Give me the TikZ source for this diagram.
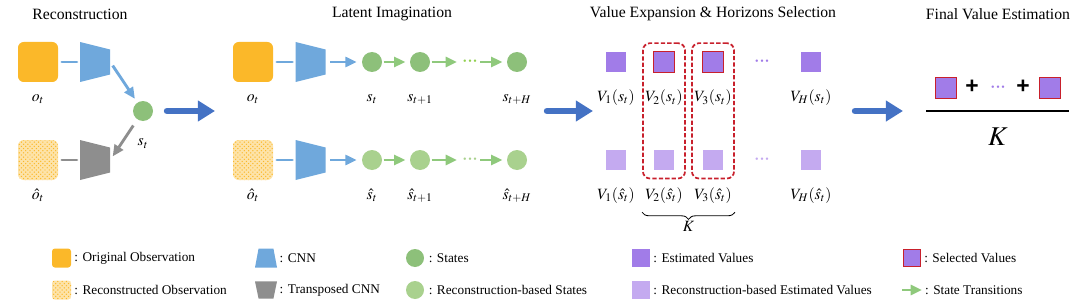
\documentclass[tikz,border=0pt]{standalone}
\usepackage{xcolor}
\usepackage{mathptmx}
\usepackage[no-math]{fontspec}
\setmainfont{Liberation Serif}
\newfontfamily\plusfont{Liberation Sans}
\usetikzlibrary{positioning,arrows.meta,patterns,fit,decorations.pathreplacing}

\definecolor{obsorange}{HTML}{FBB829}
\definecolor{cnnblue}{HTML}{6FA8DC}
\definecolor{tcnngray}{HTML}{8E8E8E}
\definecolor{stategreen}{HTML}{8DC07A}
\definecolor{recgreen}{HTML}{A9D18E}
\definecolor{transgreen}{HTML}{8FC97C}
\definecolor{dotgreen}{HTML}{92D050}
\definecolor{valpurple}{HTML}{A17CE8}
\definecolor{recpurple}{HTML}{C4AAF0}
\definecolor{selred}{HTML}{C8202C}
\definecolor{bigblue}{HTML}{4472C4}

\newcommand{\threedots}{\fontsize{7}{7}\selectfont\textbullet\hspace{1.2pt}\textbullet\hspace{1.2pt}\textbullet}

\begin{document}
\begin{tikzpicture}[
    x=0.7pt, y=-0.7pt,
    title/.style={font=\fontsize{11}{13}\selectfont},
    lbl/.style={font=\fontsize{11}{13}\selectfont, inner sep=0pt, text height=8pt, text depth=3pt},
    legtext/.style={font=\fontsize{9.3}{11}\selectfont, inner sep=0pt, anchor=west},
    obs/.style={fill=obsorange, rounded corners=4pt, minimum size=28pt, inner sep=0pt},
    recobs/.style={obs, fill=obsorange!40, postaction={pattern=crosshatch dots, pattern color=obsorange}},
    cnn/.style={minimum width=21pt, minimum height=28pt, inner sep=0pt, path picture={
        \fill[#1] (path picture bounding box.north west) -- ([yshift=-5.25pt]path picture bounding box.north east)
        -- ([yshift=5.25pt]path picture bounding box.south east) -- (path picture bounding box.south west) -- cycle;}},
    cnn/.default=cnnblue,
    cnnicon/.style={minimum width=15.4pt, minimum height=13.3pt, inner sep=0pt, path picture={
        \fill[cnnblue] (path picture bounding box.south west) -- (path picture bounding box.south east)
        -- ([xshift=-2.5pt]path picture bounding box.north east) -- ([xshift=2.5pt]path picture bounding box.north west) -- cycle;}},
    tcnnicon/.style={minimum width=15.4pt, minimum height=12pt, inner sep=0pt, path picture={
        \fill[tcnngray] (path picture bounding box.north west) -- (path picture bounding box.north east)
        -- ([xshift=-2.5pt]path picture bounding box.south east) -- ([xshift=2.5pt]path picture bounding box.south west) -- cycle;}},
    state/.style={circle, fill=stategreen, minimum size=14pt, inner sep=0pt},
    recstate/.style={state, fill=recgreen},
    val/.style={rectangle, fill=valpurple, minimum size=14.5pt, inner sep=0pt},
    recval/.style={val, fill=recpurple},
    selval/.style={val, draw=selred, line width=0.9pt},
    dots/.style={inner sep=1pt},
    plus/.style={font=\plusfont\bfseries\fontsize{16}{18}\selectfont, inner sep=0pt},
    link/.style={line width=2pt, line cap=round, shorten <=2.5pt, shorten >=2pt},
    enc/.style={draw=cnnblue, line width=2pt, -{Triangle[length=8pt,width=7pt]}},
    trans/.style={draw=transgreen, line width=2pt, -{Triangle[length=8pt,width=7pt]}, shorten <=1pt, shorten >=3pt},
    bigarrow/.style={draw=bigblue, line width=4.5pt, line cap=round, -{Triangle[length=12pt,width=14pt]}},
    selbox/.style={draw=selred, dashed, dash pattern=on 3pt off 1.5pt, line width=1.2pt, rounded corners=5pt, inner xsep=1.5pt, inner ysep=5.5pt},
    kbrace/.style={decorate, decoration={brace, mirror, amplitude=5pt}, line width=0.6pt}
]
\useasboundingbox (0,0) rectangle (1080,305);

\node[title] (tRec) at (80,14) {Reconstruction};
\node[title] (tLat) at (392,14) {Latent Imagination};
\node[title] (tVal) at (713,14) {Value Expansion \& Horizons Selection};
\node[title] (tFin) at (998,14) {Final Value Estimation};

\node[obs] (oA) at (38,62) {};
\node[cnn] (encA) at (95,62) {};
\node[state] (sA) at (143,111) {};
\node[recobs] (roA) at (38,160) {};
\node[cnn=tcnngray] (decA) at (95,160) {};
\node[lbl, below=5pt of oA] (loA) {$o_t$};
\node[lbl, below=9pt of sA] (lsA) {$s_t$};
\node[lbl, below=5pt of roA] (lroA) {$\hat{o}_t$};

\draw[link, draw=cnnblue] (oA) -- (encA);
\draw[link, draw=tcnngray] (roA) -- (decA);
\draw[enc, shorten <=3pt, shorten >=3pt] (encA.east) -- (sA);
\draw[enc, draw=tcnngray, shorten <=5pt, shorten >=3pt] (sA) -- (decA.east);

\node[obs] (oB) at (253,62) {};
\node[cnn] (encB) at (310.5,62) {};
\node[state] (sB0) at (372,62) {};
\node[state] (sB1) at (420,62) {};
\node[dots, text=dotgreen] (dB) at (470,62) {\threedots};
\node[state] (sBH) at (517,62) {};
\node[lbl, below=5pt of oB] (loB) {$o_t$};
\node[lbl, below=12pt of sB0] (lsB0) {$s_t$};
\node[lbl, below=12pt of sB1] (lsB1) {$s_{t+1}$};
\node[lbl, below=12pt of sBH] (lsBH) {$s_{t+H}$};

\node[recobs] (roB) at (253,160) {};
\node[cnn] (encC) at (310.5,160) {};
\node[recstate] (rsB0) at (372,160) {};
\node[recstate] (rsB1) at (420,160) {};
\node[dots, text=recgreen] (rdB) at (470,160) {\threedots};
\node[recstate] (rsBH) at (517,160) {};
\node[lbl, below=5pt of roB] (lroB) {$\hat{o}_t$};
\node[lbl, below=12pt of rsB0] (lrsB0) {$\hat{s}_t$};
\node[lbl, below=12pt of rsB1] (lrsB1) {$\hat{s}_{t+1}$};
\node[lbl, below=12pt of rsBH] (lrsBH) {$\hat{s}_{t+H}$};

\draw[link, draw=cnnblue] (oB) -- (encB);
\draw[enc, shorten <=3pt, shorten >=3.5pt] (encB) -- (sB0);
\draw[trans] (sB0) -- (sB1);
\draw[trans] (sB1) -- (dB);
\draw[trans] (dB) -- (sBH);
\draw[link, draw=cnnblue] (roB) -- (encC);
\draw[enc, shorten <=3pt, shorten >=3.5pt] (encC) -- (rsB0);
\draw[trans] (rsB0) -- (rsB1);
\draw[trans] (rsB1) -- (rdB);
\draw[trans] (rdB) -- (rsBH);

\node[val] (v1) at (616,62) {};
\node[selval] (v2) at (664,62) {};
\node[selval] (v3) at (713,62) {};
\node[dots, text=valpurple] (vD) at (762,62) {\threedots};
\node[val] (vH) at (811,62) {};
\node[lbl, below=12pt of v1] (lv1) {$V_1(s_t)$};
\node[lbl, below=12pt of v2] (lv2) {$V_2(s_t)$};
\node[lbl, below=12pt of v3] (lv3) {$V_3(s_t)$};
\node[lbl, below=12pt of vH] (lvH) {$V_H(s_t)$};

\node[recval] (rv1) at (616,160) {};
\node[recval] (rv2) at (664,160) {};
\node[recval] (rv3) at (713,160) {};
\node[dots, text=recpurple] (rvD) at (762,160) {\threedots};
\node[recval] (rvH) at (811,160) {};
\node[lbl, below=12pt of rv1] (lrv1) {$V_1(\hat{s}_t)$};
\node[lbl, below=12pt of rv2] (lrv2) {$V_2(\hat{s}_t)$};
\node[lbl, below=12pt of rv3] (lrv3) {$V_3(\hat{s}_t)$};
\node[lbl, below=12pt of rvH] (lrvH) {$V_H(\hat{s}_t)$};

\node[selbox, fit=(v2)(lv2)(rv2)] (box2) {};
\node[selbox, fit=(v3)(lv3)(rv3)] (box3) {};
\draw[kbrace] ([yshift=-23pt]box2.south west) -- ([yshift=-23pt]box3.south east)
    node[lbl, midway, below=5pt] (lK) {$K$};

\node[selval] (f1) at (946,88) {};
\node[plus] (p1) at (972,87) {+};
\node[dots, text=valpurple] (fD) at (998,88) {\threedots};
\node[plus] (p2) at (1023,87) {+};
\node[selval] (f2) at (1050,88) {};
\coordinate (fracL) at (926,111);
\coordinate (fracR) at (1069,111);
\draw[line width=1.6pt] (fracL) -- (fracR);
\node[font=\fontsize{19}{21}\selectfont] (kFin) at (998,137) {$K$};

\coordinate (arrAs) at (167,111);
\coordinate (arrAe) at (215,111);
\coordinate (arrBs) at (547,111);
\coordinate (arrBe) at (593,111);
\coordinate (arrCs) at (855,111);
\coordinate (arrCe) at (903,111);
\draw[bigarrow] (arrAs) -- (arrAe);
\draw[bigarrow] (arrBs) -- (arrBe);
\draw[bigarrow] (arrCs) -- (arrCe);

\node[obs, minimum size=13.3pt, rounded corners=2pt] (lgObs) at (61.5,258) {};
\node[legtext, right=2pt of lgObs] (ltObs) {: Original Observation};
\node[recobs, minimum size=13.3pt, rounded corners=2pt] (lgRec) at (61.5,290) {};
\node[legtext, right=2pt of lgRec] (ltRec) {: Reconstructed Observation};
\node[cnnicon] (lgCnn) at (266,258) {};
\node[legtext, right=1.5pt of lgCnn] (ltCnn) {: CNN};
\node[tcnnicon] (lgTcnn) at (266,290) {};
\node[legtext, right=1.5pt of lgTcnn] (ltTcnn) {: Transposed CNN};
\node[state, minimum size=12.6pt] (lgState) at (415,258) {};
\node[legtext, right=3pt of lgState] (ltState) {: States};
\node[recstate, minimum size=12.6pt] (lgRstate) at (415,290) {};
\node[legtext, right=3pt of lgRstate] (ltRstate) {: Reconstruction-based States};
\node[val, minimum size=12.6pt] (lgVal) at (641,258) {};
\node[legtext, right=2pt of lgVal] (ltVal) {: Estimated Values};
\node[recval, minimum size=12.6pt] (lgRval) at (641,290) {};
\node[legtext, right=2pt of lgRval] (ltRval) {: Reconstruction-based Estimated Values};
\node[selval, minimum size=12pt] (lgSel) at (912,258) {};
\node[legtext, right=2pt of lgSel] (ltSel) {: Selected Values};
\coordinate (lgTrA) at (902,290);
\coordinate (lgTrB) at (922,290);
\draw[trans, shorten <=0pt, shorten >=0pt] (lgTrA) -- (lgTrB);
\node[legtext, right=2pt of lgTrB] (ltTr) {: State Transitions};

\end{tikzpicture}
\end{document}
